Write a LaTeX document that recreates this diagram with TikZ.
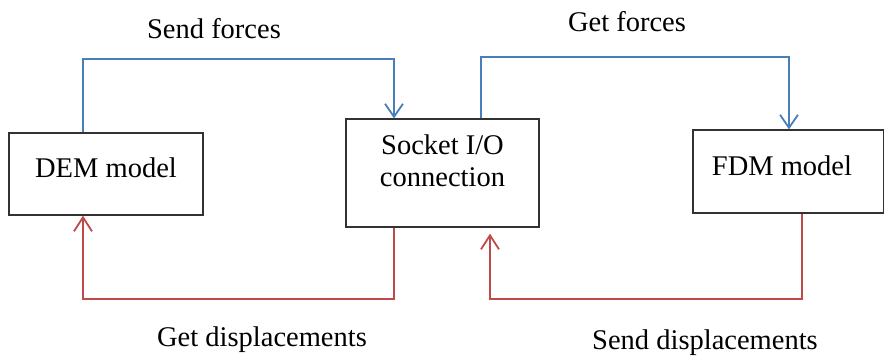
\documentclass[tikz,border=0pt]{standalone}
\usepackage{fontspec}
\setmainfont{Liberation Serif}
\usetikzlibrary{arrows.meta}
\definecolor{fblue}{RGB}{74,126,187}
\definecolor{fred}{RGB}{190,75,72}
\definecolor{fbox}{RGB}{50,50,50}
\tikzset{
  box/.style={draw=fbox, line width=1.3pt, fill=white, inner sep=0pt},
  txt/.style={font=\fontsize{28.5}{32}\selectfont, inner sep=0pt, align=center},
  bl/.style={draw=fblue, line width=1.8pt, -{Straight Barb[length=13pt,width=18pt,line width=1.8pt]}},
  rd/.style={draw=fred, line width=1.8pt, -{Straight Barb[length=14pt,width=18pt,line width=1.8pt]}},
}
\begin{document}
\begin{tikzpicture}[x=1pt,y=-1pt]
\useasboundingbox (0,0) rectangle (884,358);
% boxes
\node[box, minimum width=194pt, minimum height=82pt,
  label={[txt, anchor=base, yshift=6pt]center:DEM model}] (DEM) at (106,174) {};
\node[box, minimum width=193pt, minimum height=108pt,
  label={[txt, yshift=12pt]center:Socket I/O\\connection}] (Socket) at (442.5,173) {};
\node[box, minimum width=191pt, minimum height=83pt,
  label={[txt, anchor=base, yshift=5.5pt, xshift=-6.5pt]center:FDM model}] (FDM) at (788.5,171.5) {};
% labels
\node[txt] (sf) at (214,29) {Send forces};
\node[txt] (gf) at (627,22) {Get forces};
\node[txt] (gd) at (262,340) {Get displacements};
\node[txt] (sd) at (705,343) {Send displacements};
% routing coordinates
\coordinate (xa) at (83,0);
\coordinate (xb) at (394,0);
\coordinate (xc) at (481,0);
\coordinate (xd) at (789,0);
\coordinate (xe) at (394,0);
\coordinate (xf) at (802,0);
\coordinate (xg) at (490,0);
\coordinate (yt1) at (0,59);
\coordinate (yt2) at (0,57);
\coordinate (yb) at (0,299);
% connectors
\draw[bl] (DEM.north -| xa) -- (xa |- yt1) -| (Socket.north -| xb);
\draw[bl] (Socket.north -| xc) -- (xc |- yt2) -| (FDM.north -| xd);
\draw[rd] (Socket.south -| xe) -- (xe |- yb) -| (DEM.south -| xa);
\draw[rd, shorten >=6pt] (FDM.south -| xf) -- (xf |- yb) -| (Socket.south -| xg);
\end{tikzpicture}
\end{document}
